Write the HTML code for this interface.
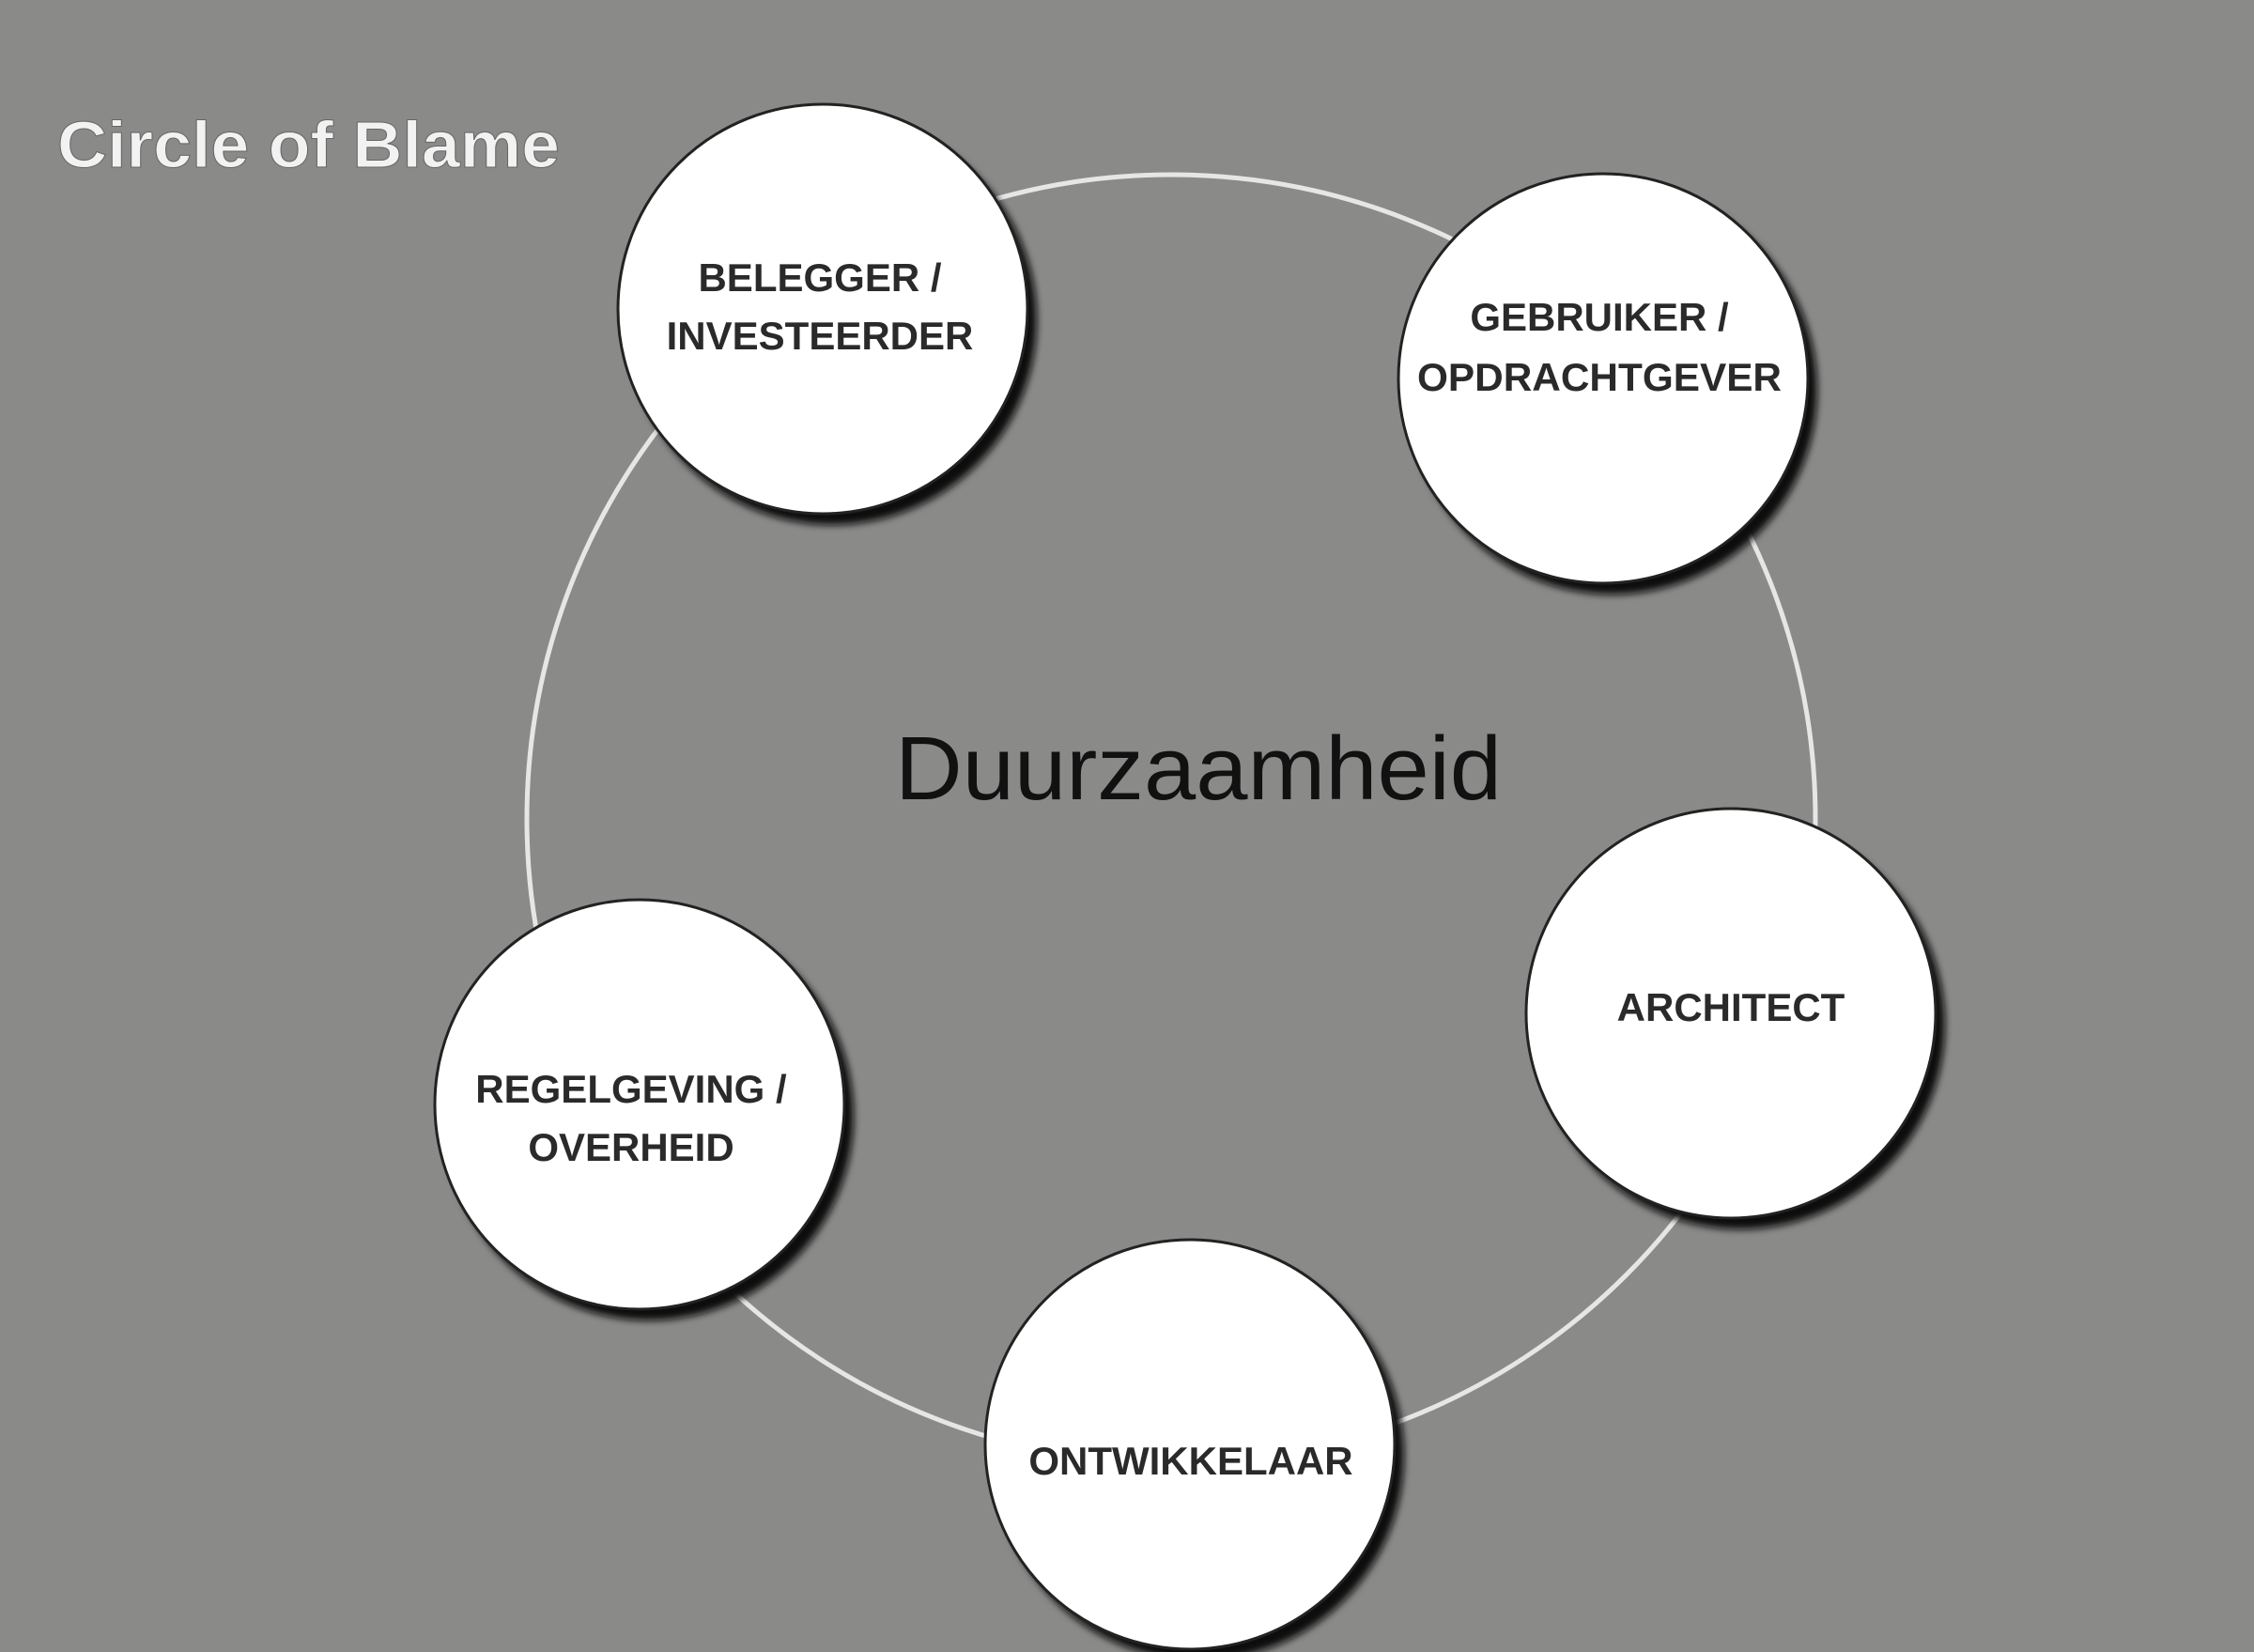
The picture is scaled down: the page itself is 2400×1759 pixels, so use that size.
<!DOCTYPE html>
<html><head><style>
html,body{margin:0;padding:0;}
body{width:2400px;height:1759px;background:#8a8b89;overflow:hidden;}
svg{display:block;}
</style></head><body>
<svg width="2400" height="1759" viewBox="0 0 2400 1759" xmlns="http://www.w3.org/2000/svg">
<defs>
<filter id="sh" x="-20%" y="-20%" width="150%" height="150%">
<feGaussianBlur stdDeviation="4"/>
</filter>
</defs>
<rect width="2400" height="1759" fill="#8a8b89"/>
<circle cx="1247" cy="872" r="686" fill="none" stroke="#e6e6e6" stroke-width="5"/>
<text x="61" y="178" font-family="Liberation Sans, sans-serif" font-size="70" font-weight="bold" fill="#f2f2f2" stroke="#666" stroke-width="1" textLength="535" lengthAdjust="spacingAndGlyphs">Circle of Blame</text>
<text x="1276" y="851" text-anchor="middle" font-family="Liberation Sans, sans-serif" font-size="96" fill="#111" textLength="646" lengthAdjust="spacingAndGlyphs">Duurzaamheid</text>
<g font-family="Liberation Sans, sans-serif" font-size="42" font-weight="bold" fill="#2a2a2a" text-anchor="middle">
<g>
<circle cx="886" cy="341" r="218" fill="#111" filter="url(#sh)"/>
<circle cx="876" cy="329" r="218" fill="#fff" stroke="#222" stroke-width="3"/>
<text x="873" y="310">BELEGGER /</text><text x="873" y="372">INVESTEERDER</text>
</g>
<g>
<circle cx="1717" cy="415" r="218" fill="#111" filter="url(#sh)"/>
<circle cx="1707" cy="403" r="218" fill="#fff" stroke="#222" stroke-width="3"/>
<text x="1703" y="352">GEBRUIKER /</text><text x="1703" y="416" textLength="388" lengthAdjust="spacingAndGlyphs">OPDRACHTGEVER</text>
</g>
<g>
<circle cx="1853" cy="1091" r="218" fill="#111" filter="url(#sh)"/>
<circle cx="1843" cy="1079" r="218" fill="#fff" stroke="#222" stroke-width="3"/>
<text x="1843" y="1087">ARCHITECT</text>
</g>
<g>
<circle cx="1277" cy="1550" r="218" fill="#111" filter="url(#sh)"/>
<circle cx="1267" cy="1538" r="218" fill="#fff" stroke="#222" stroke-width="3"/>
<text x="1268" y="1570">ONTWIKKELAAR</text>
</g>
<g>
<circle cx="691" cy="1188" r="218" fill="#111" filter="url(#sh)"/>
<circle cx="681" cy="1176" r="218" fill="#fff" stroke="#222" stroke-width="3"/>
<text x="672" y="1174">REGELGEVING /</text><text x="672" y="1236">OVERHEID</text>
</g>
</g>
</svg>
</body></html>
